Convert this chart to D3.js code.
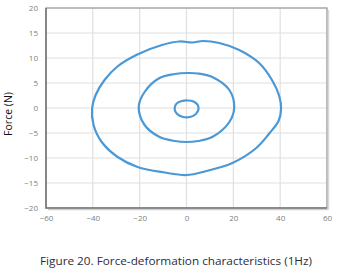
<!DOCTYPE html>
<html><head><meta charset="utf-8">
<script src="https://cdn.jsdelivr.net/npm/d3@7"></script>
<style>body{margin:0;background:#fff}svg{display:block}</style>
</head><body>
<svg id="c" width="341" height="277"></svg>
<script>
const xTicks = [-60, -40, -20, 0, 20, 40, 60];
const yTicks = [-20, -15, -10, -5, 0, 5, 10, 15, 20];
const outerLoop = [[-40.3,0],[-38.8,2.6],[-35,5.6],[-29.5,8.3],[-21,10.7],[-10.5,12.6],[-3,13.3],[2.5,13.1],[7,13.4],[14,13],[22.5,11.6],[31,9],[36.5,5.6],[39.6,2.4],[40.4,-0.2],[39.3,-2.6],[35.5,-5],[29.8,-8],[19.6,-11],[8.5,-12.6],[0,-13.4],[-9.4,-12.9],[-20.9,-11.8],[-29.4,-9.8],[-36.2,-6.8],[-39.7,-3.4]];
const middleLoop = [[-20.4,0.2],[-17.9,3.2],[-11.5,6],[-5,6.8],[0.4,7],[5,6.9],[11,6.2],[18.3,3.6],[20.4,0.2],[18.3,-2.8],[11,-5.8],[5,-6.6],[0,-6.8],[-5,-6.6],[-11.5,-5.8],[-17.9,-3.4]];
const innerLoop = [[-5.1,-0.1],[-4.2,0.9],[-2,1.4],[0.5,1.5],[3,1.3],[4.8,0.6],[5.1,-0.3],[4,-1.2],[1.5,-1.8],[-1.5,-1.8],[-4,-1.2]];
const loops = [outerLoop, middleLoop, innerLoop];

const svg = d3.select("#c");
const L = 46, R = 327, T = 8, B = 208;
const x = d3.scaleLinear().domain([-60, 60]).range([L, R]);
const y = d3.scaleLinear().domain([-20, 20]).range([B, T]);

// grid
svg.append("g").selectAll("line.v").data(xTicks).join("line")
  .attr("x1", d => x(d)).attr("x2", d => x(d)).attr("y1", T).attr("y2", B)
  .attr("stroke", "#e0e0e0").attr("stroke-width", 1.2);
svg.append("g").selectAll("line.h").data(yTicks).join("line")
  .attr("x1", L).attr("x2", R).attr("y1", d => y(d)).attr("y2", d => y(d))
  .attr("stroke", "#e0e0e0").attr("stroke-width", 1.2);

// frame
svg.append("rect").attr("x", L).attr("y", T).attr("width", R - L).attr("height", B - T)
  .attr("fill", "none").attr("stroke", "#9a9a9a").attr("stroke-width", 1.2);
svg.append("line").attr("x1", R + 1.5).attr("x2", R + 1.5).attr("y1", T + 2).attr("y2", B + 1.5)
  .attr("stroke", "#d8d8d8").attr("stroke-width", 1.5);
svg.append("line").attr("x1", L + 2).attr("x2", R + 1.5).attr("y1", B + 1.5).attr("y2", B + 1.5)
  .attr("stroke", "#d0d0d0").attr("stroke-width", 1.5);
svg.append("path").attr("d", `M${L},${T}V${B}H${R}`).attr("fill", "none")
  .attr("stroke", "#7a7a7a").attr("stroke-width", 1.6);

// axes labels
const xa = svg.append("g").attr("transform", `translate(0,${B + 5})`)
  .call(d3.axisBottom(x).tickValues(xTicks).tickSize(0).tickPadding(2));
const ya = svg.append("g").attr("transform", `translate(${L - 8},0)`)
  .call(d3.axisLeft(y).tickValues(yTicks).tickSize(0).tickPadding(0));
[xa, ya].forEach(g => {
  g.select(".domain").remove();
  g.selectAll("text").attr("fill", "#808080").style("font-family", "'Open Sans', sans-serif").style("font-size", "8px");
});

// loops
const line = d3.line().x(d => x(d[0])).y(d => y(d[1])).curve(d3.curveCatmullRomClosed.alpha(0.5));
svg.append("g").selectAll("path").data(loops).join("path")
  .attr("d", line).attr("fill", "none").attr("stroke", "#4a98d6").attr("stroke-width", 2.2);

// y label
svg.append("text").attr("transform", "translate(12,114) rotate(-90)")
  .attr("text-anchor", "middle").attr("fill", "#111")
  .style("font-family", "'Open Sans', sans-serif").style("font-size", "10.5px").text("Force (N)");

// caption
svg.append("text").attr("x", 176).attr("y", 265).attr("text-anchor", "middle")
  .attr("fill", "#2c2c3c").attr("textLength", 272).attr("lengthAdjust", "spacingAndGlyphs")
  .style("font-family", "'Open Sans', sans-serif").style("font-size", "11px")
  .text("Figure 20. Force-deformation characteristics (1Hz)");
</script>
</body></html>
